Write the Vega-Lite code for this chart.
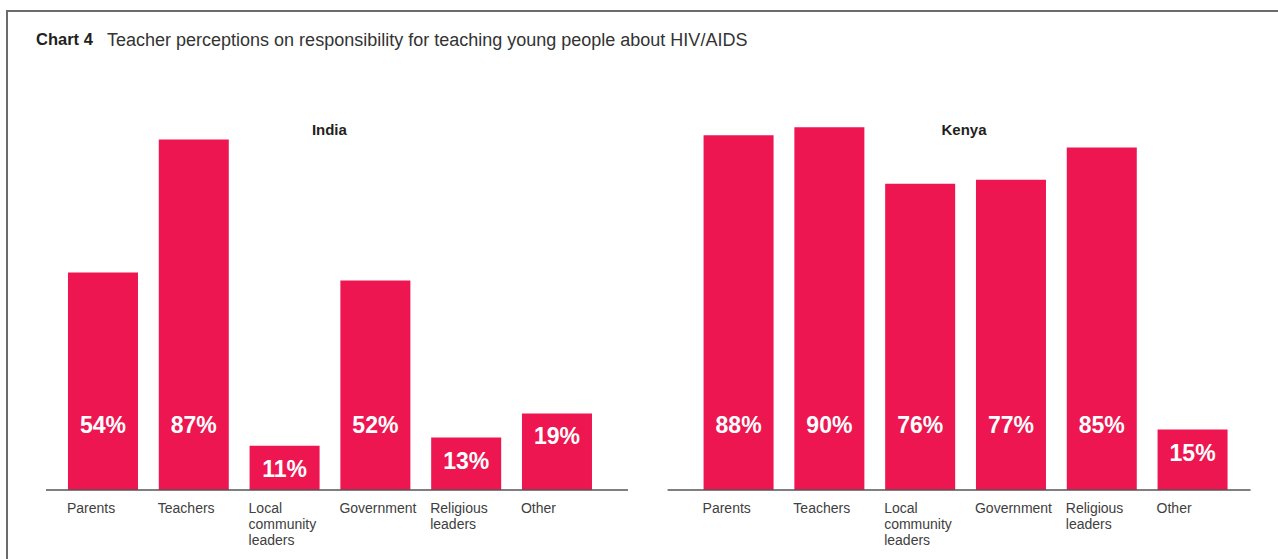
{
  "$schema": "https://vega.github.io/schema/vega-lite/v6.json",
  "width": 1278,
  "height": 559,
  "autosize": {"type": "fit", "contains": "padding"},
  "padding": {"left": 7, "top": 11, "right": -3, "bottom": -3},
  "background": "white",
  "config": {
    "view": {"stroke": "#6b6b6b", "strokeWidth": 2},
    "font": "Liberation Sans"
  },
  "title": {
    "text": "Teacher perceptions on responsibility for teaching young people about HIV/AIDS",
    "anchor": "start",
    "dx": 100,
    "offset": -39,
    "font": "Liberation Sans",
    "fontSize": 18,
    "fontWeight": "normal",
    "color": "#333333"
  },
  "data": {
    "values": [
      {"country": "India", "key": "India Parents", "label": "Parents", "value": 0.54},
      {"country": "India", "key": "India Teachers", "label": "Teachers", "value": 0.87},
      {"country": "India", "key": "India Local", "label": "Local\ncommunity\nleaders", "value": 0.11},
      {"country": "India", "key": "India Government", "label": "Government", "value": 0.52},
      {"country": "India", "key": "India Religious", "label": "Religious\nleaders", "value": 0.13},
      {"country": "India", "key": "India Other", "label": "Other", "value": 0.19},
      {"country": "Kenya", "key": "Kenya Parents", "label": "Parents", "value": 0.88},
      {"country": "Kenya", "key": "Kenya Teachers", "label": "Teachers", "value": 0.90},
      {"country": "Kenya", "key": "Kenya Local", "label": "Local\ncommunity\nleaders", "value": 0.76},
      {"country": "Kenya", "key": "Kenya Government", "label": "Government", "value": 0.77},
      {"country": "Kenya", "key": "Kenya Religious", "label": "Religious\nleaders", "value": 0.85},
      {"country": "Kenya", "key": "Kenya Other", "label": "Other", "value": 0.15}
    ]
  },
  "encoding": {
    "x": {
      "field": "key",
      "type": "nominal",
      "axis": null,
      "scale": {
        "domain": ["India Parents", "India Teachers", "India Local", "India Government", "India Religious", "India Other", "gap", "Kenya Parents", "Kenya Teachers", "Kenya Local", "Kenya Government", "Kenya Religious", "Kenya Other"],
        "paddingInner": 0.229,
        "paddingOuter": 0.63,
        "align": 0.533
      }
    }
  },
  "layer": [
    {
      "mark": {"type": "bar", "color": "#ED1650"},
      "encoding": {
        "y": {"field": "value", "type": "quantitative", "axis": null, "scale": {"domain": [-0.1787, 1.1886], "nice": false, "zero": false}},
        "y2": {"datum": 0}
      }
    },
    {
      "data": {"values": [{"country": "India"}]},
      "mark": {"type": "rule", "color": "#555555", "strokeWidth": 1.5, "xOffset": -57, "x2Offset": 71},
      "encoding": {
        "x": {"datum": "India Parents"},
        "x2": {"datum": "India Other"},
        "y": {"datum": 0, "type": "quantitative"}
      }
    },
    {
      "data": {"values": [{"country": "Kenya"}]},
      "mark": {"type": "rule", "color": "#555555", "strokeWidth": 1.5, "xOffset": -71, "x2Offset": 58},
      "encoding": {
        "x": {"datum": "Kenya Parents"},
        "x2": {"datum": "Kenya Other"},
        "y": {"datum": 0, "type": "quantitative"}
      }
    },
    {
      "transform": [{"filter": "datum.value >= 0.25"}],
      "mark": {"type": "text", "color": "white", "fontSize": 23, "fontWeight": "bold", "baseline": "middle", "align": "center"},
      "encoding": {
        "y": {"datum": 0.16, "type": "quantitative"},
        "text": {"field": "value", "type": "quantitative", "format": ".0%"}
      }
    },
    {
      "transform": [{"filter": "datum.value < 0.25"}],
      "mark": {"type": "text", "color": "white", "fontSize": 23, "fontWeight": "bold", "baseline": "middle", "align": "center", "dy": 24},
      "encoding": {
        "y": {"field": "value", "type": "quantitative"},
        "text": {"field": "value", "type": "quantitative", "format": ".0%"}
      }
    },
    {
      "mark": {"type": "text", "color": "#404040", "fontSize": 14, "baseline": "top", "align": "left", "dx": -36, "dy": 12, "lineBreak": "\n", "lineHeight": 16},
      "encoding": {
        "y": {"datum": 0, "type": "quantitative"},
        "text": {"field": "label", "type": "nominal"}
      }
    },
    {
      "data": {"values": [{"panel": "India"}]},
      "mark": {"type": "text", "color": "#231f20", "fontSize": 15, "fontWeight": "bold", "baseline": "middle", "align": "center", "dx": -46},
      "encoding": {
        "x": {"datum": "India Government"},
        "y": {"datum": 0.893, "type": "quantitative"},
        "text": {"field": "panel", "type": "nominal"}
      }
    },
    {
      "data": {"values": [{"panel": "Kenya"}]},
      "mark": {"type": "text", "color": "#231f20", "fontSize": 15, "fontWeight": "bold", "baseline": "middle", "align": "center", "dx": -47},
      "encoding": {
        "x": {"datum": "Kenya Government"},
        "y": {"datum": 0.893, "type": "quantitative"},
        "text": {"field": "panel", "type": "nominal"}
      }
    },
    {
      "data": {"values": [{"heading": "Chart 4"}]},
      "mark": {"type": "text", "color": "#231f20", "fontSize": 16.5, "fontWeight": "bold", "baseline": "middle", "align": "left", "dx": -67},
      "encoding": {
        "x": {"datum": "India Parents"},
        "y": {"datum": 1.117, "type": "quantitative"},
        "text": {"field": "heading", "type": "nominal"}
      }
    }
  ]
}
